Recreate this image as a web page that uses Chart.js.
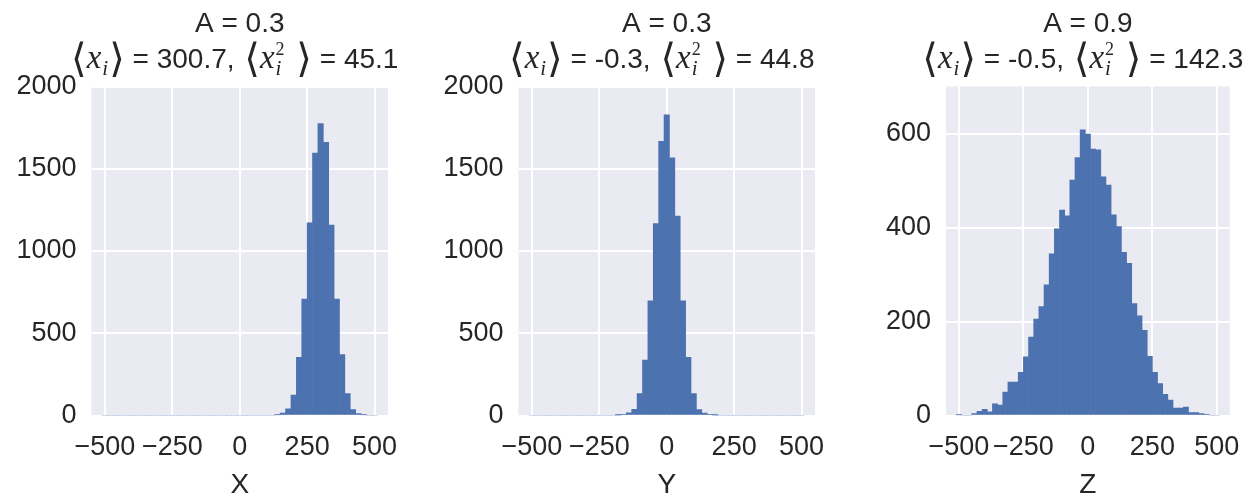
<!DOCTYPE html>
<html>
<head>
<meta charset="utf-8">
<script src="https://cdn.jsdelivr.net/npm/chart.js@4/dist/chart.umd.min.js"></script>
<style>
  body{margin:0;background:#fff;}
  #wrap{position:relative;width:1256px;height:496px;}
  #wrap canvas{position:absolute;left:0;top:0;}
</style>
</head>
<body>
<div id="wrap">
  <canvas id="histX" width="1256" height="496"></canvas>
  <canvas id="histY" width="1256" height="496"></canvas>
  <canvas id="histZ" width="1256" height="496"></canvas>
</div>
<script>
// histogram bin centres (same bins for all three panels)
const BINS = [-500,-480,-460,-440,-420,-400,-380,-360,-340,-320,-300,-280,-260,-240,-220,-200,-180,
  -160,-140,-120,-100,-80,-60,-40,-20,0,20,40,60,80,100,120,140,160,180,200,220,240,260,280,300,
  320,340,360,380,400,420,440,460,480,500];

// counts
const COUNTS_X = [0,0,0,0,0,0,0,0,0,0,0,0,0,0,0,0,0,0,0,0,0,0,0,0,0,0,0,0,0,0,0,0,
  3,14,40,124,354,707,1172,1596,1775,1660,1158,707,370,133,36,12,3,0,0];
const COUNTS_Y = [0,0,0,0,0,0,0,0,0,0,0,0,0,0,0,0,
  1,5,16,38,133,337,697,1166,1667,1828,1566,1212,697,354,133,36,14,5,1,
  0,0,0,0,0,0,0,0,0,0,0,0,0,0,0,0];
const COUNTS_Z = [1,0,0,4,9,13,8,25,22,50,71,71,92,125,167,205,232,278,344,397,437,425,501,549,608,
  599,567,565,508,490,427,402,347,324,238,212,181,126,92,68,45,33,16,16,18,6,6,4,2,0,0];

const AXIS_NAMES = ['X','Y','Z'];
const A_VALUES = ['0.3','0.3','0.9'];
const MEANS = ['300.7','-0.3','-0.5'];
const SPREADS = ['45.1','44.8','142.3'];

const X_TICKS = [-500,-250,0,250,500];
const Y_TICKS_XY = [0,500,1000,1500,2000];
const Y_TICKS_Z = [0,200,400,600];

const BLUE = '#4C72B0';
const BG = '#EAEAF2';
const INK = '#262626';
const SANS = "'Liberation Sans', Arial, sans-serif";

// plot-area left edges on the page and common plot width
const LEFTS = [91.5, 518.5, 946];
const PLOT_W = 296.5;

const bgPlugin = {
  id:'bgPlugin',
  beforeDraw(chart){
    const a = chart.chartArea, c = chart.ctx;
    c.save(); c.fillStyle = BG; c.fillRect(a.left, a.top, a.right-a.left, a.bottom-a.top); c.restore();
  }
};

// draws a row of text pieces centred on cx
function drawRow(c, parts, cx, base){
  let w = 0;
  parts.forEach(p=>{
    c.font = p.f; p.w = c.measureText(p.t).width;
    if(p.sub){ c.font = p.subF; p.w = Math.max(p.w, c.measureText(p.sub).width); }
    w += p.w + (p.gap||0);
  });
  let x = cx - w/2;
  parts.forEach(p=>{
    c.font = p.f; c.fillText(p.t, x, base + (p.dy||0));
    if(p.sub){ c.font = p.subF; c.fillText(p.sub, x, base + p.subDy); }
    x += p.w + (p.gap||0);
  });
}

const titlePlugin = {
  id:'mathTitle',
  afterDraw(chart, args, o){
    const a = chart.chartArea, c = chart.ctx;
    const cx = (a.left + a.right)/2;
    c.save(); c.fillStyle = INK; c.textAlign = 'left'; c.textBaseline = 'alphabetic';
    c.font = "28px " + SANS;
    const t1 = 'A = ' + o.a;
    c.fillText(t1, cx - c.measureText(t1).width/2, 32);
    const br = "40px 'DejaVu Sans'", mx = "italic 33px 'Liberation Serif'";
    const sb = "italic 21px 'Liberation Serif'", sp = "18px 'Liberation Serif'";
    const tx = "28px " + SANS;
    drawRow(c, [
      {t:'\u27E8', f:br, dy:4},
      {t:'x', f:mx, gap:1},
      {t:'i', f:sb, dy:7, gap:1},
      {t:'\u27E9', f:br, dy:4},
      {t:' = ' + o.mean + ', ', f:tx, gap:2},
      {t:'\u27E8', f:br, dy:4},
      {t:'x', f:mx, gap:1},
      {t:'2', f:sp, dy:-13, sub:'i', subF:sb, subDy:7},
      {t:' ', f:tx, gap:4},
      {t:'\u27E9', f:br, dy:4},
      {t:' = ' + o.spread, f:tx, gap:2}
    ], cx - 4, 68);
    c.restore();
  }
};

function tickText(v){ return v < 0 ? '\u2212' + (-v) : String(v); }

function makeHist(id, i, counts, yTicks, yMax){
  const left = LEFTS[i], right = left + PLOT_W;
  return new Chart(document.getElementById(id), {
    type:'bar',
    data:{ datasets:[{
      data: BINS.map((b,k)=>({x:b, y:counts[k]})),
      backgroundColor: BLUE, borderWidth:0, barPercentage:1, categoryPercentage:1
    }]},
    options:{
      responsive:false, animation:false, devicePixelRatio:1,
      layout:{ padding:{ left:left-80, right:1256-right, top:86.5, bottom:0 } },
      plugins:{
        legend:{display:false}, tooltip:{enabled:false}, title:{display:false},
        mathTitle:{ a:A_VALUES[i], mean:MEANS[i], spread:SPREADS[i] }
      },
      scales:{
        x:{
          type:'linear', min:-550, max:550, offset:false,
          afterBuildTicks: s=>{ s.ticks = X_TICKS.map(v=>({value:v})); },
          afterFit: s=>{ s.height = 80.5; },
          grid:{ color:'#fff', lineWidth:2, drawTicks:false, offset:false },
          border:{ display:false },
          ticks:{ color:INK, font:{family:SANS, size:27}, padding:16, maxRotation:0, autoSkip:false, callback:tickText },
          title:{ display:true, text:AXIS_NAMES[i], color:INK, font:{family:SANS, size:28, lineHeight:0.8}, padding:0 }
        },
        y:{
          min:0, max:yMax,
          afterBuildTicks: s=>{ s.ticks = yTicks.map(v=>({value:v})); },
          afterFit: s=>{ s.width = 80; },
          grid:{ color:'#fff', lineWidth:2, drawTicks:false },
          border:{ display:false },
          ticks:{ color:INK, font:{family:SANS, size:27}, padding:15, callback:tickText }
        }
      }
    },
    plugins:[bgPlugin, titlePlugin]
  });
}

makeHist('histX', 0, COUNTS_X, Y_TICKS_XY, 2000);
makeHist('histY', 1, COUNTS_Y, Y_TICKS_XY, 2000);
makeHist('histZ', 2, COUNTS_Z, Y_TICKS_Z, 700);
</script>
</body>
</html>
